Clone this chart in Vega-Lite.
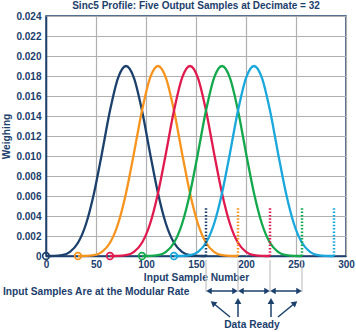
{
  "$schema": "https://vega.github.io/schema/vega-lite/v6.json",
  "autosize": "none",
  "width": 300,
  "height": 240,
  "padding": {"left": 46, "top": 16, "right": 10, "bottom": 76},
  "background": "white",
  "config": {
    "font": "Liberation Sans",
    "view": {"stroke": "#1c406c", "strokeWidth": 1.5},
    "axis": {"labelFont": "Liberation Sans", "titleFont": "Liberation Sans", "labelOverlap": false, "labelBound": false, "ticks": false}
  },
  "title": {"text": "Sinc5 Profile: Five Output Samples at Decimate = 32", "fontSize": 10, "fontWeight": "bold", "color": "#1c406c", "offset": 0, "anchor": "middle", "frame": "group", "font": "Liberation Sans"},
  "datasets": {
    "curves": [
      {"c":"1","x":0,"y":0},{"c":"1","x":8,"y":0.0000052},{"c":"1","x":16,"y":0.0000826},{"c":"1","x":24,"y":0.000418},{"c":"1","x":32,"y":0.001322},{"c":"1","x":40,"y":0.003201},{"c":"1","x":48,"y":0.006278},{"c":"1","x":56,"y":0.010306},{"c":"1","x":64,"y":0.014539},{"c":"1","x":72,"y":0.017792},{"c":"1","x":80,"y":0.019},{"c":"1","x":88,"y":0.017792},{"c":"1","x":96,"y":0.014539},{"c":"1","x":104,"y":0.010306},{"c":"1","x":112,"y":0.006278},{"c":"1","x":120,"y":0.003201},{"c":"1","x":128,"y":0.001322},{"c":"1","x":136,"y":0.000418},{"c":"1","x":144,"y":0.0000826},{"c":"1","x":152,"y":0.0000052},{"c":"1","x":160,"y":0},
      {"c":"2","x":32,"y":0},{"c":"2","x":40,"y":0.0000052},{"c":"2","x":48,"y":0.0000826},{"c":"2","x":56,"y":0.000418},{"c":"2","x":64,"y":0.001322},{"c":"2","x":72,"y":0.003201},{"c":"2","x":80,"y":0.006278},{"c":"2","x":88,"y":0.010306},{"c":"2","x":96,"y":0.014539},{"c":"2","x":104,"y":0.017792},{"c":"2","x":112,"y":0.019},{"c":"2","x":120,"y":0.017792},{"c":"2","x":128,"y":0.014539},{"c":"2","x":136,"y":0.010306},{"c":"2","x":144,"y":0.006278},{"c":"2","x":152,"y":0.003201},{"c":"2","x":160,"y":0.001322},{"c":"2","x":168,"y":0.000418},{"c":"2","x":176,"y":0.0000826},{"c":"2","x":184,"y":0.0000052},{"c":"2","x":192,"y":0},
      {"c":"3","x":64,"y":0},{"c":"3","x":72,"y":0.0000052},{"c":"3","x":80,"y":0.0000826},{"c":"3","x":88,"y":0.000418},{"c":"3","x":96,"y":0.001322},{"c":"3","x":104,"y":0.003201},{"c":"3","x":112,"y":0.006278},{"c":"3","x":120,"y":0.010306},{"c":"3","x":128,"y":0.014539},{"c":"3","x":136,"y":0.017792},{"c":"3","x":144,"y":0.019},{"c":"3","x":152,"y":0.017792},{"c":"3","x":160,"y":0.014539},{"c":"3","x":168,"y":0.010306},{"c":"3","x":176,"y":0.006278},{"c":"3","x":184,"y":0.003201},{"c":"3","x":192,"y":0.001322},{"c":"3","x":200,"y":0.000418},{"c":"3","x":208,"y":0.0000826},{"c":"3","x":216,"y":0.0000052},{"c":"3","x":224,"y":0},
      {"c":"4","x":96,"y":0},{"c":"4","x":104,"y":0.0000052},{"c":"4","x":112,"y":0.0000826},{"c":"4","x":120,"y":0.000418},{"c":"4","x":128,"y":0.001322},{"c":"4","x":136,"y":0.003201},{"c":"4","x":144,"y":0.006278},{"c":"4","x":152,"y":0.010306},{"c":"4","x":160,"y":0.014539},{"c":"4","x":168,"y":0.017792},{"c":"4","x":176,"y":0.019},{"c":"4","x":184,"y":0.017792},{"c":"4","x":192,"y":0.014539},{"c":"4","x":200,"y":0.010306},{"c":"4","x":208,"y":0.006278},{"c":"4","x":216,"y":0.003201},{"c":"4","x":224,"y":0.001322},{"c":"4","x":232,"y":0.000418},{"c":"4","x":240,"y":0.0000826},{"c":"4","x":248,"y":0.0000052},{"c":"4","x":256,"y":0},
      {"c":"5","x":128,"y":0},{"c":"5","x":136,"y":0.0000052},{"c":"5","x":144,"y":0.0000826},{"c":"5","x":152,"y":0.000418},{"c":"5","x":160,"y":0.001322},{"c":"5","x":168,"y":0.003201},{"c":"5","x":176,"y":0.006278},{"c":"5","x":184,"y":0.010306},{"c":"5","x":192,"y":0.014539},{"c":"5","x":200,"y":0.017792},{"c":"5","x":208,"y":0.019},{"c":"5","x":216,"y":0.017792},{"c":"5","x":224,"y":0.014539},{"c":"5","x":232,"y":0.010306},{"c":"5","x":240,"y":0.006278},{"c":"5","x":248,"y":0.003201},{"c":"5","x":256,"y":0.001322},{"c":"5","x":264,"y":0.000418},{"c":"5","x":272,"y":0.0000826},{"c":"5","x":280,"y":0.0000052},{"c":"5","x":288,"y":0}
    ],
    "markers": [
      {"c":"1","start":0,"ready":160,"base":0,"top":0.0049},
      {"c":"2","start":32,"ready":192,"base":0,"top":0.0049},
      {"c":"3","start":64,"ready":224,"base":0,"top":0.0049},
      {"c":"4","start":96,"ready":256,"base":0,"top":0.0049},
      {"c":"5","start":128,"ready":288,"base":0,"top":0.0049}
    ],
    "guides": [
      {"x":160,"y":-0.0004,"y2":-0.0036},
      {"x":192,"y":-0.0004,"y2":-0.0036},
      {"x":224,"y":-0.0004,"y2":-0.0036},
      {"x":256,"y":-0.0004,"y2":-0.0036}
    ],
    "spans": [
      {"x":163,"x2":189,"y":-0.0035},
      {"x":195,"x2":221,"y":-0.0035},
      {"x":227,"x2":253,"y":-0.0035}
    ],
    "pointers": [
      {"x":184,"y":-0.0061,"x2":167,"y2":-0.0047,"angle":309},
      {"x":192,"y":-0.0061,"x2":192,"y2":-0.0045,"angle":0},
      {"x":225,"y":-0.0061,"x2":225,"y2":-0.0045,"angle":0},
      {"x":232,"y":-0.0061,"x2":249,"y2":-0.0047,"angle":51}
    ],
    "notes": [
      {"x":-43,"y":-0.0036,"t":"Input Samples Are at the Modular Rate"}
    ],
    "notes2": [
      {"x":206,"y":-0.0069,"t":"Data Ready"}
    ]
  },
  "layer": [
    {
      "data": {"name": "curves"},
      "mark": {"type": "line", "interpolate": "monotone", "strokeWidth": 2.3},
      "encoding": {
        "x": {"field": "x", "type": "quantitative", "scale": {"domain": [0, 300], "nice": false},
          "axis": {"values": [0,50,100,150,200,250,300], "tickCount": 7, "title": "Input Sample Number", "titleFontSize": 10.2, "titleFontWeight": "bold", "titleColor": "#1c406c", "titlePadding": 3,
            "labelFontSize": 10, "labelFontWeight": "bold", "labelColor": "#1c406c", "labelPadding": 3, "ticks": false, "labelOverlap": false,
            "domainColor": "#1c406c", "domainWidth": 1.5, "gridColor": "#b0b0b0", "gridWidth": 1.2, "labelFlush": false}},
        "y": {"field": "y", "type": "quantitative", "scale": {"domain": [0, 0.024], "nice": false},
          "axis": {"values": [0,0.002,0.004,0.006,0.008,0.01,0.012,0.014,0.016,0.018,0.02,0.022,0.024], "tickCount": 13,
            "labelExpr": "datum.value == 0 ? '0' : format(datum.value, '.3f')", "labelOverlap": false,
            "title": "Weighing", "titleFontSize": 10.2, "titleFontWeight": "bold", "titleColor": "#1c406c", "titlePadding": 4,
            "labelFontSize": 10, "labelFontWeight": "bold", "labelColor": "#1c406c", "labelPadding": 5, "ticks": false,
            "domainColor": "#1c406c", "domainWidth": 1.5, "gridColor": "#b0b0b0", "gridWidth": 1.2}},
        "color": {"field": "c", "type": "nominal", "scale": {"domain": ["1","2","3","4","5"], "range": ["#1c406c","#f7941d","#e01a4f","#13a84b","#19a7dc"]}, "legend": null}
      }
    },
    {
      "data": {"name": "markers"},
      "mark": {"type": "rule", "strokeWidth": 2.5, "strokeDash": [1.5, 1.8]},
      "encoding": {
        "x": {"field": "ready", "type": "quantitative"},
        "y": {"field": "base", "type": "quantitative"},
        "y2": {"field": "top"},
        "color": {"field": "c", "type": "nominal", "legend": null}
      }
    },
    {
      "data": {"name": "markers"},
      "mark": {"type": "point", "filled": false, "size": 45, "strokeWidth": 1.6, "opacity": 1},
      "encoding": {
        "x": {"field": "start", "type": "quantitative"},
        "y": {"field": "base", "type": "quantitative"},
        "color": {"field": "c", "type": "nominal", "legend": null}
      }
    },
    {
      "data": {"name": "guides"},
      "mark": {"type": "rule", "color": "#c8c8c8", "strokeWidth": 1.3, "clip": false},
      "encoding": {
        "x": {"field": "x", "type": "quantitative"},
        "y": {"field": "y", "type": "quantitative"},
        "y2": {"field": "y2"}
      }
    },
    {
      "data": {"name": "spans"},
      "mark": {"type": "rule", "color": "#1c406c", "strokeWidth": 1.5, "clip": false},
      "encoding": {
        "x": {"field": "x", "type": "quantitative"},
        "x2": {"field": "x2"},
        "y": {"field": "y", "type": "quantitative"}
      }
    },
    {
      "data": {"name": "spans"},
      "mark": {"type": "point", "shape": "triangle-left", "filled": true, "size": 40, "color": "#1c406c", "opacity": 1, "clip": false},
      "encoding": {
        "x": {"field": "x", "type": "quantitative"},
        "y": {"field": "y", "type": "quantitative"}
      }
    },
    {
      "data": {"name": "spans"},
      "mark": {"type": "point", "shape": "triangle-right", "filled": true, "size": 40, "color": "#1c406c", "opacity": 1, "clip": false},
      "encoding": {
        "x": {"field": "x2", "type": "quantitative"},
        "y": {"field": "y", "type": "quantitative"}
      }
    },
    {
      "data": {"name": "pointers"},
      "mark": {"type": "rule", "color": "#1c406c", "strokeWidth": 1.5, "clip": false},
      "encoding": {
        "x": {"field": "x", "type": "quantitative"},
        "y": {"field": "y", "type": "quantitative"},
        "x2": {"field": "x2"},
        "y2": {"field": "y2"}
      }
    },
    {
      "data": {"name": "pointers"},
      "mark": {"type": "point", "shape": "triangle-up", "filled": true, "size": 45, "color": "#1c406c", "opacity": 1, "clip": false},
      "encoding": {
        "x": {"field": "x2", "type": "quantitative"},
        "y": {"field": "y2", "type": "quantitative"},
        "angle": {"field": "angle", "type": "quantitative", "scale": null}
      }
    },
    {
      "data": {"name": "notes"},
      "mark": {"type": "text", "fontWeight": "bold", "fontSize": 10.2, "color": "#1c406c", "baseline": "middle", "align": "left", "clip": false},
      "encoding": {
        "x": {"field": "x", "type": "quantitative"},
        "y": {"field": "y", "type": "quantitative"},
        "text": {"field": "t"}
      }
    },
    {
      "data": {"name": "notes2"},
      "mark": {"type": "text", "fontWeight": "bold", "fontSize": 10.2, "color": "#1c406c", "baseline": "middle", "align": "center", "clip": false},
      "encoding": {
        "x": {"field": "x", "type": "quantitative"},
        "y": {"field": "y", "type": "quantitative"},
        "text": {"field": "t"}
      }
    }
  ]
}
